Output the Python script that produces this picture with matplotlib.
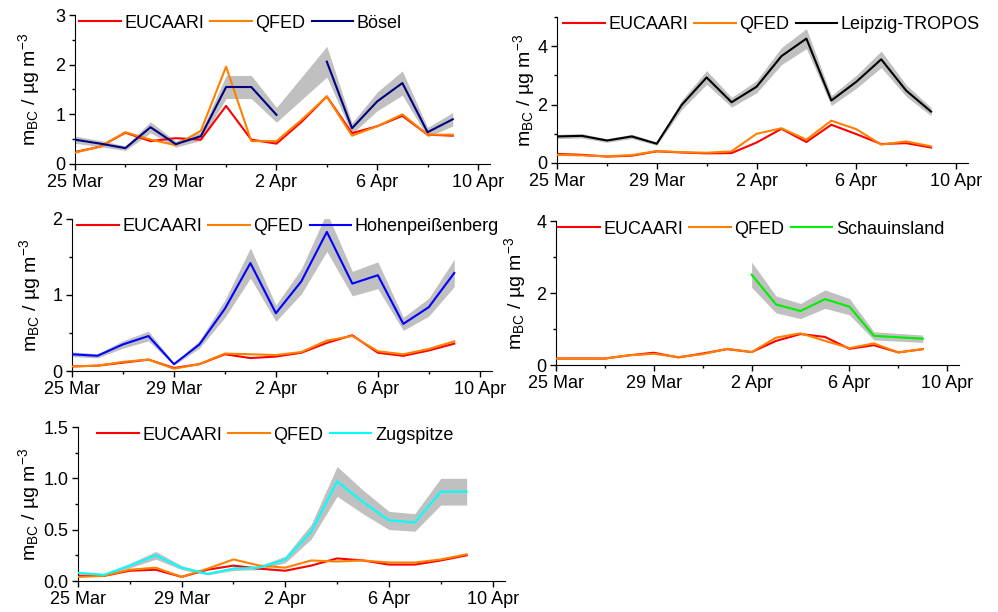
import numpy as np
import matplotlib
matplotlib.use('Agg')
import matplotlib.pyplot as plt

plt.rcParams['font.family'] = ['Liberation Sans', 'DejaVu Sans']
plt.rcParams['mathtext.fontset'] = 'custom'
plt.rcParams['mathtext.rm'] = 'Liberation Sans'
plt.rcParams['mathtext.it'] = 'Liberation Sans:italic'

# daily values, 25 Mar .. 9 Apr (16 days)
days = np.arange(16)
tick_days = [0, 4, 8, 12, 16]
tick_labels = ['25 Mar', '29 Mar', '2 Apr', '6 Apr', '10 Apr']
nan = np.nan

# Bösel
boesel_obs = [0.49, 0.41, 0.32, 0.74, 0.40, 0.56, 1.55, 1.55, 0.99, nan, 2.06, 0.72, 1.26, 1.63, 0.64, 0.90]
boesel_eucaari = [0.24, 0.35, 0.63, 0.46, 0.52, 0.49, 1.17, 0.49, 0.41, 0.85, 1.36, 0.62, 0.76, 0.97, 0.59, 0.57]
boesel_qfed = [0.23, 0.35, 0.64, 0.49, 0.38, 0.67, 1.96, 0.46, 0.46, 0.89, 1.36, 0.57, 0.76, 1.00, 0.59, 0.59]
boesel_unc = 0.15

# Leipzig-TROPOS
leipzig_obs = [0.91, 0.93, 0.77, 0.91, 0.66, 1.99, 2.93, 2.08, 2.61, 3.66, 4.26, 2.14, 2.78, 3.55, 2.48, 1.76]
leipzig_eucaari = [0.31, 0.28, 0.22, 0.25, 0.40, 0.36, 0.33, 0.34, 0.70, 1.17, 0.72, 1.31, 0.99, 0.65, 0.68, 0.53]
leipzig_qfed = [0.28, 0.26, 0.23, 0.27, 0.41, 0.37, 0.35, 0.40, 1.00, 1.19, 0.80, 1.45, 1.16, 0.63, 0.74, 0.57]
leipzig_unc = 0.08

# Hohenpeißenberg
hohen_obs = [0.22, 0.20, 0.35, 0.46, 0.09, 0.35, 0.82, 1.42, 0.76, 1.18, 1.83, 1.15, 1.26, 0.62, 0.84, 1.29]
hohen_eucaari = [0.06, 0.07, 0.11, 0.15, 0.04, 0.09, 0.22, 0.17, 0.19, 0.24, 0.37, 0.47, 0.24, 0.20, 0.27, 0.36]
hohen_qfed = [0.06, 0.07, 0.12, 0.15, 0.03, 0.09, 0.23, 0.22, 0.21, 0.25, 0.40, 0.46, 0.26, 0.22, 0.29, 0.39]
hohen_unc = 0.14

# Schauinsland
schau_obs = [nan, nan, nan, nan, nan, nan, nan, nan, 2.51, 1.68, 1.50, 1.83, 1.62, 0.81, 0.77, 0.73]
schau_eucaari = [0.18, 0.18, 0.18, 0.27, 0.34, 0.21, 0.32, 0.44, 0.36, 0.67, 0.86, 0.78, 0.45, 0.55, 0.35, 0.44]
schau_qfed = [0.18, 0.18, 0.18, 0.27, 0.31, 0.22, 0.30, 0.45, 0.36, 0.76, 0.88, 0.67, 0.47, 0.60, 0.35, 0.44]
schau_unc = 0.14

# Zugspitze
zug_obs = [0.08, 0.06, 0.15, 0.25, 0.13, 0.07, 0.12, 0.13, 0.21, 0.48, 0.97, 0.77, 0.59, 0.57, 0.87, 0.87]
zug_eucaari = [0.05, 0.05, 0.10, 0.11, 0.04, 0.11, 0.15, 0.12, 0.10, 0.15, 0.22, 0.20, 0.16, 0.16, 0.20, 0.25]
zug_qfed = [0.04, 0.05, 0.11, 0.13, 0.04, 0.12, 0.21, 0.15, 0.13, 0.20, 0.19, 0.20, 0.18, 0.18, 0.21, 0.26]
zug_unc = 0.15

panels = [
    # name, obs, eucaari, qfed, unc, colour, ymax, yticks,
    # rect (px: left, top, right, bottom), legend x offset (px), ylabel right edge (px)
    ('Bösel', boesel_obs, boesel_eucaari, boesel_qfed, boesel_unc, '#000080',
     3, [0, 1, 2, 3], (75, 15, 490, 164), 4, 42),
    ('Leipzig-TROPOS', leipzig_obs, leipzig_eucaari, leipzig_qfed, leipzig_unc, '#000000',
     5, [0, 2, 4], (557, 17, 968, 163), 6, 537),
    ('Hohenpeißenberg', hohen_obs, hohen_eucaari, hohen_qfed, hohen_unc, '#0000ff',
     2, [0, 1, 2], (72, 219, 492, 371), 5, 43),
    ('Schauinsland', schau_obs, schau_eucaari, schau_qfed, schau_unc, '#00ee00',
     4, [0, 2, 4], (556, 221, 959, 365), 2, 528),
    ('Zugspitze', zug_obs, zug_eucaari, zug_qfed, zug_unc, '#00ffff',
     1.5, [0, 0.5, 1.0, 1.5], (78, 427, 505, 581), 19, 42),
]

W, H = 998, 612
fig = plt.figure(figsize=(W / 100, H / 100), dpi=100)

for name, obs, euc, qfed, unc, col, ymax, yt, (l, t, r, b), lx, ylx in panels:
    ax = fig.add_axes([l / W, 1 - b / H, (r - l) / W, (b - t) / H])
    obs = np.array(obs)
    ok = ~np.isnan(obs)
    ax.fill_between(days[ok], obs[ok] * (1 - unc), obs[ok] * (1 + unc),
                    color='#c0c0c0', lw=0, zorder=1)
    ax.plot(days, euc, color='#ff0000', lw=1.5, label='EUCAARI', zorder=2)
    ax.plot(days, qfed, color='#ff8000', lw=1.5, label='QFED', zorder=3)
    ax.plot(days, obs, color=col, lw=1.5, label=name, zorder=4)

    ax.set_xlim(0, 16.48)
    ax.set_ylim(0, ymax)
    ax.set_xticks(tick_days)
    ax.set_xticklabels(tick_labels)
    ax.set_xticks([2, 6, 10, 14], minor=True)
    ax.set_yticks(yt)
    if ymax == 1.5:
        ax.set_yticklabels(['0.0', '0.5', '1.0', '1.5'])
    step = yt[1] - yt[0]
    ax.set_yticks(np.arange(step / 2, ymax + 0.01, step), minor=True)
    for s in ['top', 'right']:
        ax.spines[s].set_visible(False)
    ax.tick_params(which='major', direction='out', length=4.5, width=1, labelsize=13, pad=2.5)
    ax.tick_params(which='minor', direction='out', length=2.5, width=1)
    ax.set_ylabel(r'm$_{\mathrm{BC}}$ / µg m$^{-3}$', fontsize=14)
    ax.yaxis.set_label_coords((ylx - l) / (r - l), 0.5)
    ax.legend(loc='center left', bbox_to_anchor=(lx / (r - l), 1 - 8 / (b - t)), ncol=3,
              frameon=False, fontsize=13, handlelength=2.3, handletextpad=0.2,
              columnspacing=0.35, borderaxespad=0, borderpad=0)

plt.savefig('out.png', dpi=100)
